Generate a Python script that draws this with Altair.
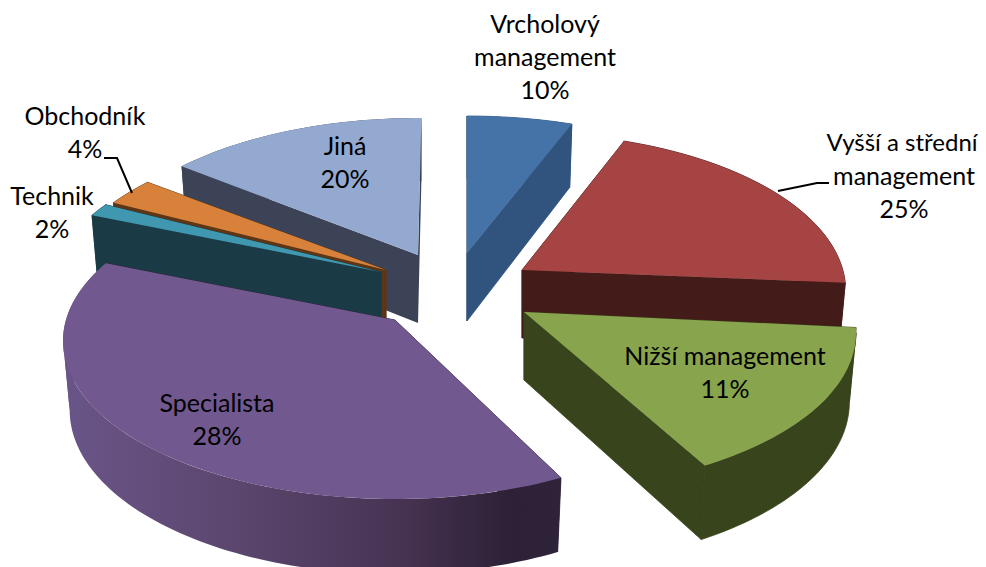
import math
import altair as alt

# Slices as drawn in the picture, clockwise from 12 o'clock
categories = ["Vrcholový management", "Vyšší a střední management", "Nižší management",
              "Specialista", "Technik", "Obchodník", "Jiná"]
label_percent = [10, 25, 11, 28, 2, 4, 20]
drawn_start_deg = [0, 18.4, 88, 150, 299.5, 304, 314]
drawn_end_deg = [18.4, 87, 147, 299.5, 304, 313.5, 360.6]

# Geometry of the exploded, tilted pie (page pixels)
apex = {"Vrcholový management": (467, 253), "Vyšší a střední management": (522, 270),
        "Nižší management": (524, 312), "Specialista": (395, 320), "Technik": (381, 272),
        "Obchodník": (386, 270), "Jiná": (418, 255)}
x_squeeze = {"Vyšší a střední management": 0.975, "Jiná": 0.99, "Obchodník": 0.99}
RX, RY, CY = 332, 158, 21
B_X, B_RY, B_CY, APEX_DEPTH = 0.98, 164, 90, 68

top_color = {"Vrcholový management": "#4572a7", "Vyšší a střední management": "#a64443",
             "Nižší management": "#88a44d", "Specialista": "#71588f", "Technik": "#3f98b0",
             "Obchodník": "#d8813a", "Jiná": "#93a9cf"}
side_color = {"Vrcholový management": "#30547e", "Vyšší a střední management": "#431c1a",
              "Nižší management": "#38441c", "Specialista": "#2e2338", "Technik": "#1a3b46",
              "Obchodník": "#5e3616", "Jiná": "#3c4356"}
purple_stops = [("#6a5589", 0), ("#5b466e", 0.35), ("#463352", 0.68), ("#2c2136", 0.9), ("#2e2338", 1)]

draw_order = ["Vrcholový management", "Jiná", "Obchodník", "Technik",
              "Vyšší a střední management", "Specialista", "Nižší management"]

label_text = ["Vrcholový\nmanagement\n10%", "Vyšší a střední", "management\n25%", "Nižší management\n11%",
              "Specialista\n28%", "Technik\n2%", "Obchodník\n4%", "Jiná\n20%"]
label_x = [545, 902, 904, 725, 217, 52, 85, 345]
label_y = [25, 144, 177, 357, 404, 197, 117, 147]
label_size = [25, 24, 25, 25, 25, 25, 25, 25]
leaders = [[(104, 158), (117, 158), (132, 193)], [(778, 191), (817, 183), (829, 183)]]

FONT = "Lato"
PROJ = dict(type="identity", scale=1, translate=[-8, -8])


def top_pt(name, t):
    ax, ay = apex[name]
    s = x_squeeze.get(name, 1)
    return (ax + s * RX * math.sin(t), ay + CY - RY * math.cos(t))


def bot_pt(name, t):
    ax, ay = apex[name]
    s = x_squeeze.get(name, 1)
    return (ax + s * B_X * RX * math.sin(t), ay + B_CY - B_RY * math.cos(t))


def sweep(t0, t1):
    n = max(3, int(abs(t1 - t0) / math.radians(1.5)))
    return [t0 + (t1 - t0) * i / n for i in range(n + 1)]


def feature(points, closed=True):
    pts = [list(p) for p in points]
    if closed:
        pts = pts + [pts[0]]
        geom = {"type": "Polygon", "coordinates": [pts]}
    else:
        geom = {"type": "LineString", "coordinates": pts}
    return {"type": "Feature", "properties": {}, "geometry": geom}


def face(points, fill, edge=None):
    if edge:
        mark = alt.Chart(alt.Data(values=[feature(points)])).mark_geoshape(
            fill=fill, stroke=edge, strokeWidth=0.8)
    else:
        mark = alt.Chart(alt.Data(values=[feature(points)])).mark_geoshape(
            fill=fill, stroke=None, strokeWidth=0)
    return mark.project(**PROJ)


def outer_pieces(name, t0, t1):
    """Outer wall cut at the left and right silhouette, so no piece folds over itself."""
    cuts = [t0] + [c for c in (math.pi / 2, 3 * math.pi / 2) if t0 < c < t1] + [t1]
    pieces = []
    for a, b in zip(cuts[:-1], cuts[1:]):
        ts = sweep(a, b)
        pieces.append((a, b, [top_pt(name, t) for t in ts] + [bot_pt(name, t) for t in reversed(ts)]))
    return pieces


span = {name: (math.radians(a), math.radians(b))
        for name, a, b in zip(categories, drawn_start_deg, drawn_end_deg)}

layers = []
for name in draw_order:
    t0, t1 = span[name]
    ax, ay = apex[name]
    a_top, a_bot = (ax, ay), (ax, ay + APEX_DEPTH)
    sc = side_color[name]
    edge = None if name == "Jiná" else sc
    layers.append(face([a_top, top_pt(name, t0), bot_pt(name, t0), a_bot], sc, edge))
    layers.append(face([a_top, top_pt(name, t1), bot_pt(name, t1), a_bot], sc, edge))
    for a, b, poly in outer_pieces(name, t0, t1):
        if name == "Specialista" and b <= 3 * math.pi / 2 + 1e-9:
            grad = alt.Gradient(gradient="linear", x1=0, x2=1, y1=0, y2=0,
                                stops=[alt.GradientStop(color=c, offset=o) for c, o in purple_stops])
            layers.append(face(poly, grad))
        elif name == "Specialista":
            layers.append(face(poly, purple_stops[0][0]))
        else:
            layers.append(face(poly, sc, edge))
    layers.append(face([a_top] + [top_pt(name, t) for t in sweep(t0, t1)], top_color[name]))

for line in leaders:
    layers.append(alt.Chart(alt.Data(values=[feature(line, closed=False)]))
                  .mark_geoshape(filled=False, stroke="black", strokeWidth=2)
                  .project(**PROJ))

for txt, lx, ly, fs in zip(label_text, label_x, label_y, label_size):
    layers.append(alt.Chart(alt.Data(values=[{"t": txt}])).mark_text(
        font=FONT, fontSize=fs, color="#000000", align="center", baseline="middle",
        lineBreak="\n", lineHeight=33).encode(text="t:N", x=alt.value(lx - 8), y=alt.value(ly - 8)))

chart = alt.layer(*layers).properties(
    width=970, height=559, padding=0, autosize=alt.AutoSizeParams(type="none"), background="white"
).configure_view(stroke=None)

chart.save("out.html", embed_options={"renderer": "svg", "actions": False})
